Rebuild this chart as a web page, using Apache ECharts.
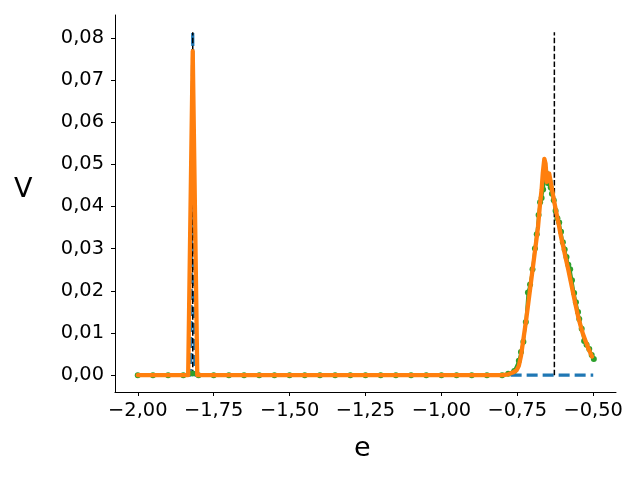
<!DOCTYPE html>
<html>
<head>
<meta charset="utf-8">
<script src="https://cdn.jsdelivr.net/npm/echarts@6/dist/echarts.min.js"></script>
<style>
html,body{margin:0;padding:0;background:#fff;}
#chart{width:640px;height:480px;}
</style>
</head>
<body>
<div id="chart"></div>
<script>
// ---- data ----
const xTicks = [-2.0, -1.75, -1.5, -1.25, -1.0, -0.75, -0.5];
const yTicks = [0, 0.01, 0.02, 0.03, 0.04, 0.05, 0.06, 0.07, 0.08];

const blueE = [-2.0, -1.826, -1.819, -1.812, -0.5];
const blueV = [0, 0, 0.0815, 0, 0];

const orangeE = [-2.0, -1.834, -1.819, -1.804, -0.80, -0.78, -0.765, -0.752, -0.745, -0.738, -0.730, -0.722, -0.714, -0.706, -0.698, -0.690, -0.682, -0.676, -0.670, -0.666, -0.661, -0.657, -0.653, -0.649, -0.645, -0.641, -0.637, -0.632, -0.626, -0.620, -0.613, -0.606, -0.598, -0.590, -0.582, -0.574, -0.566, -0.558, -0.550, -0.542, -0.534, -0.526, -0.518, -0.511, -0.504];
const orangeV = [0, 0, 0.0768, 0, 0, 0.0002, 0.0006, 0.0012, 0.0022, 0.0045, 0.0085, 0.0125, 0.017, 0.0215, 0.026, 0.0305, 0.035, 0.040, 0.044, 0.048, 0.0513, 0.0502, 0.0458, 0.0468, 0.0478, 0.0462, 0.0445, 0.0425, 0.0402, 0.038, 0.0355, 0.0328, 0.0302, 0.0275, 0.025, 0.0222, 0.0194, 0.0166, 0.014, 0.0118, 0.0098, 0.0082, 0.0067, 0.0055, 0.0044];

const greenE = [-2.0, -1.95, -1.90, -1.85, -1.82, -1.80, -1.75, -1.70, -1.65, -1.60, -1.55, -1.50, -1.45, -1.40, -1.35, -1.30, -1.25, -1.20, -1.15, -1.10, -1.05, -1.00, -0.95, -0.90, -0.85, -0.80, -0.78, -0.76, -0.745, -0.738, -0.730, -0.722, -0.715, -0.708, -0.700, -0.692, -0.686, -0.680, -0.675, -0.670, -0.665, -0.660, -0.656, -0.652, -0.648, -0.644, -0.640, -0.636, -0.630, -0.624, -0.618, -0.612, -0.606, -0.600, -0.594, -0.588, -0.582, -0.576, -0.570, -0.563, -0.557, -0.550, -0.546, -0.538, -0.530, -0.522, -0.513, -0.505, -0.498];
const greenV = [0, 0, 0, 0, 0.0004, 0, 0, 0, 0, 0, 0, 0, 0, 0, 0, 0, 0, 0, 0, 0, 0, 0, 0, 0, 0, 0, 0.0003, 0.001, 0.0034, 0.0055, 0.0079, 0.0126, 0.0196, 0.0215, 0.0251, 0.030, 0.0334, 0.038, 0.041, 0.042, 0.044, 0.046, 0.048, 0.047, 0.0455, 0.046, 0.0445, 0.043, 0.0415, 0.039, 0.0372, 0.0362, 0.034, 0.0315, 0.0298, 0.028, 0.0262, 0.0251, 0.0225, 0.0195, 0.0173, 0.0150, 0.0133, 0.011, 0.0081, 0.0072, 0.0062, 0.0048, 0.0038];

const vlineE = [-1.819, -0.628];
const vlineTop = 0.0813;

// ---- chart ----
const zip = (a, b) => a.map((x, i) => [x, b[i]]);
const fmt = v => (v < 0 ? '\u2212' : '') + Math.abs(v).toFixed(2).replace('.', ',');
const FONT = 'DejaVu Sans';

const series = [
  {
    type: 'line', data: zip(blueE, blueV), showSymbol: false, z: 1,
    lineStyle: { color: '#1f77b4', width: 3.2, type: [11, 5] }
  }
];
vlineE.forEach((x) => {
  series.push({
    type: 'line', data: [[x, 0], [x, vlineTop]], showSymbol: false, z: 2,
    lineStyle: { color: '#000', width: 1.5, type: [5.5, 2.4] }
  });
});
series.push({
  type: 'line', data: zip(greenE, greenV), z: 3,
  symbol: 'circle', symbolSize: 6, showSymbol: true,
  itemStyle: { color: '#2ca02c' },
  lineStyle: { color: '#2ca02c', width: 3 }
});
series.push({
  type: 'line', data: zip(orangeE, orangeV), showSymbol: false, z: 4,
  lineStyle: { color: '#ff7f0e', width: 4.3, join: 'round', cap: 'round' }
});

const chart = echarts.init(document.getElementById('chart'), null, { renderer: 'canvas' });
chart.setOption({
  animation: false,
  backgroundColor: '#fff',
  grid: { left: 115, right: 24, top: 15, bottom: 88, containLabel: false },
  xAxis: {
    type: 'value', min: -2.075, max: -0.425,
    splitLine: { show: false },
    axisLine: { show: true, onZero: false, lineStyle: { color: '#000', width: 1 } },
    axisTick: { show: true, length: 4, customValues: xTicks, lineStyle: { color: '#000' } },
    axisLabel: { customValues: xTicks, formatter: fmt, margin: 9, color: '#000', fontFamily: FONT, fontSize: 19.4 }
  },
  yAxis: {
    type: 'value', min: -0.004, max: 0.0854,
    splitLine: { show: false },
    axisLine: { show: true, onZero: false, lineStyle: { color: '#000', width: 1 } },
    axisTick: { show: true, length: 4, customValues: yTicks, lineStyle: { color: '#000' } },
    axisLabel: { customValues: yTicks, formatter: fmt, margin: 11, color: '#000', fontFamily: FONT, fontSize: 19.4 }
  },
  graphic: [
    { type: 'text', left: 14, top: 176, style: { text: 'V', fontFamily: FONT, fontSize: 27, fill: '#000' } },
    { type: 'text', left: 354, top: 435, style: { text: 'e', fontFamily: FONT, fontSize: 27, fill: '#000' } }
  ],
  series: series
});
</script>
</body>
</html>
